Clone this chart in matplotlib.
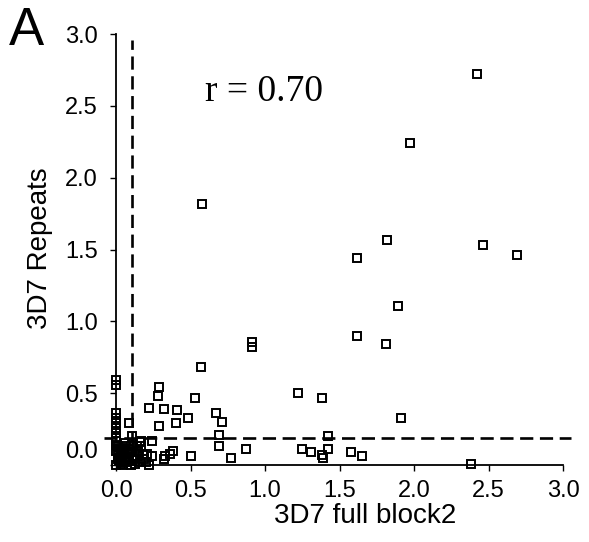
import numpy as np
import matplotlib
matplotlib.use("Agg")
import matplotlib.pyplot as plt
from matplotlib.transforms import ScaledTranslation

# Values
full_block2 = [2.42, 1.97, 0.58, 1.82, 2.46, 2.69, 1.62, 1.89, 1.62, 1.81,
               0.91, 0.91, 1.22, 1.38, 1.91, 1.42, 1.25, 1.31, 1.42, 1.38,
               1.39, 1.58, 1.65, 2.38, 0.57, 0.29, 0.28, 0.53, 0.22, 0.32,
               0.41, 0.48, 0.67, 0.71, 0.29, 0.40, 0.09, 0.69, 0.69, 0.24,
               0.11, 0.17, 0.38, 0.36, 0.33, 0.32, 0.24, 0.50, 0.22, 0.77,
               0.87,
               0.0, 0.0, 0.0, 0.0, 0.0, 0.0, 0.0, 0.0,
               0.0, 0.04, 0.05, 0.01, 0.06, 0.09, 0.11, 0.14, 0.16, 0.15,
               0.14, 0.16, 0.13, 0.07, 0.01, 0.01, 0.03, 0.18, 0.17, 0.20,
               0.0, 0.02, 0.05, 0.10, 0.08, 0.03, 0.0, 0.0, 0.06, 0.10,
               0.02, 0.04, 0.07, 0.09, 0.12, 0.03, 0.05, 0.08, 0.12, 0.15,
               0.19, 0.21]
repeats = [2.72, 2.24, 1.82, 1.57, 1.53, 1.46, 1.44, 1.11, 0.90, 0.84,
           0.86, 0.82, 0.50, 0.47, 0.33, 0.20, 0.11, 0.09, 0.11, 0.07,
           0.05, 0.09, 0.06, 0.01, 0.68, 0.54, 0.48, 0.47, 0.40, 0.39,
           0.38, 0.33, 0.36, 0.30, 0.27, 0.29, 0.29, 0.21, 0.13, 0.17,
           0.20, 0.17, 0.10, 0.08, 0.06, 0.04, 0.06, 0.06, 0.00, 0.05,
           0.11,
           0.59, 0.56, 0.36, 0.33, 0.29, 0.26, 0.22, 0.19,
           0.17, 0.12, 0.08, 0.04, 0.02, 0.05, 0.09, 0.13, 0.16, 0.10,
           0.06, 0.02, 0.01, 0.13, 0.13, 0.07, 0.01, 0.07, 0.13, 0.02,
           0.0, 0.05, 0.0, 0.0, 0.06, 0.09, 0.10, 0.14, 0.15, 0.13,
           0.03, 0.02, 0.04, 0.03, 0.04, 0.11, 0.10, 0.11, 0.05, 0.09,
           0.04, 0.08]

cut_x = 0.107
cut_y = 0.19
ticks = [0.0, 0.5, 1.0, 1.5, 2.0, 2.5, 3.0]
tick_labels = ["0.0", "0.5", "1.0", "1.5", "2.0", "2.5", "3.0"]

plt.rcParams['font.family'] = ['Liberation Sans', 'DejaVu Sans']

fig = plt.figure(figsize=(5.89, 5.42), dpi=100)
ax = fig.add_axes([0.197, 0.142, 0.759, 0.795])

ax.plot(full_block2, repeats, 's', ms=5.5, mfc='none', mec='black', mew=1.4,
        clip_on=False, zorder=3)

# cutoff lines
ax.plot([cut_x, cut_x], [0.0, 2.96], color='black', lw=1.9,
        dashes=(5, 2.5), clip_on=False)
ax.plot([-0.08, 3.05], [cut_y, cut_y], color='black', lw=1.9,
        dashes=(5, 2.5), clip_on=False)

ax.set_xlim(0, 3.0)
ax.set_ylim(0, 3.0)
ax.set_xticks(ticks)
ax.set_xticklabels(tick_labels)
ax.set_yticks(ticks)
ax.set_yticklabels(tick_labels)
ax.tick_params(axis='both', labelsize=17, direction='out', length=4,
               width=1.0)
ax.tick_params(axis='y', pad=9)
ax.tick_params(axis='x', pad=7)

# the 0.0 label on the y axis sits higher in the original
lab0 = ax.get_yticklabels()[0]
lab0.set_transform(lab0.get_transform() +
                   ScaledTranslation(0, 16 / 100, fig.dpi_scale_trans))

for s in ['top', 'right']:
    ax.spines[s].set_visible(False)
for s in ['left', 'bottom']:
    ax.spines[s].set_linewidth(1.3)

ax.set_xlabel("3D7 full block2", fontsize=20)
ax.set_ylabel("3D7 Repeats", fontsize=20)
ax.xaxis.set_label_coords(0.557, -0.088)
ax.yaxis.set_label_coords(-0.142, 0.503)

ax.text(0.60, 2.535, "r = 0.70", fontsize=27, family='Liberation Serif',
        ha='left', va='baseline')
fig.text(0.015, 0.917, "A", fontsize=38, ha='left', va='baseline')

fig.savefig("out.png", dpi=100, facecolor='white')
